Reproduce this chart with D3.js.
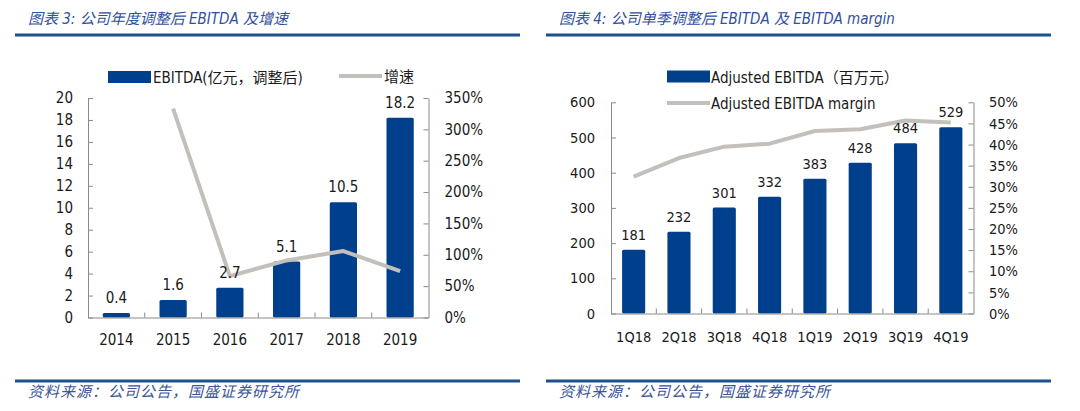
<!DOCTYPE html>
<html>
<head>
<meta charset="utf-8">
<script src="https://cdn.jsdelivr.net/npm/d3@7"></script>
<style>
body{margin:0;background:#fff;}
svg text{font-family:"DejaVu Sans Condensed","DejaVu Sans","Noto Sans CJK SC",sans-serif;fill:#1a1a1a;}
svg text.title{font-style:italic;fill:#2f509c;font-size:15px;}
svg text.source{font-style:italic;fill:#3b5597;font-size:15px;letter-spacing:1px;}
</style>
</head>
<body>
<svg id="chart" width="1080" height="411"></svg>
<script>
// 图表3: yearly adjusted EBITDA (亿元) and growth (%)
var years = ["2014", "2015", "2016", "2017", "2018", "2019"];
var ebitdaYear = [0.4, 1.6, 2.7, 5.1, 10.5, 18.2];
var growthYear = [null, 333, 66, 91, 106, 74];
var yearTicks = [0, 2, 4, 6, 8, 10, 12, 14, 16, 18, 20];
var growthTicks = [0, 50, 100, 150, 200, 250, 300, 350];

// 图表4: quarterly adjusted EBITDA (百万元) and margin (%)
var quarters = ["1Q18", "2Q18", "3Q18", "4Q18", "1Q19", "2Q19", "3Q19", "4Q19"];
var ebitdaQuarter = [181, 232, 301, 332, 383, 428, 484, 529];
var marginQuarter = [32.4, 36.8, 39.5, 40.2, 43.2, 43.6, 45.7, 45.2];
var quarterTicks = [0, 100, 200, 300, 400, 500, 600];
var marginTicks = [0, 5, 10, 15, 20, 25, 30, 35, 40, 45, 50];

var BAR = "#003f8c";
var LINE = "#c3c0bb";
var AXIS = "#8a8a8a";

function ComboChart(svg, opts){
    var self = this;
    self.svg = svg;
    self.opts = opts;
    self.init();
};

ComboChart.prototype.init = function(){
    var self = this;
    var o = self.opts;

    self.x = d3.scaleBand()
    .domain(o.cats)
    .range([o.left, o.right])
    .paddingInner(o.pad)
    .paddingOuter(o.pad / 2);

    self.yL = d3.scaleLinear()
    .domain([0, d3.max(o.leftTicks)])
    .range([o.bottom, o.top]);

    self.yR = d3.scaleLinear()
    .domain([0, d3.max(o.rightTicks)])
    .range([o.bottom, o.top]);

    self.g = self.svg.append("g");
};

ComboChart.prototype.styleAxis = function(g){
    var o = this.opts;
    g.select(".domain").attr("stroke", AXIS);
    g.selectAll(".tick line").attr("stroke", AXIS);
    g.selectAll(".tick text").attr("font-size", o.fontSize).attr("fill", "#1a1a1a");
};

ComboChart.prototype.draw = function(){
    var self = this;
    var o = self.opts;
    var x = self.x, yL = self.yL, yR = self.yR;

    //bars first so axes sit on top
    self.g.selectAll(".bar")
    .data(o.bars)
    .enter()
    .append("rect")
    .attr("class", "bar")
    .attr("x", (d,i) => x(o.cats[i]))
    .attr("width", x.bandwidth())
    .attr("y", d => yL(d))
    .attr("height", d => o.bottom - yL(d))
    .attr("rx", 1.5)
    .attr("fill", BAR);

    //left axis, ticks pointing into the plot
    var left = self.g.append("g")
    .attr("transform", "translate(" + o.left + ",0)")
    .call(d3.axisLeft(yL).tickValues(o.leftTicks).tickSize(-5).tickSizeOuter(0).tickPadding(o.leftPad));
    self.styleAxis(left);

    var right = self.g.append("g")
    .attr("transform", "translate(" + o.right + ",0)")
    .call(d3.axisRight(yR).tickValues(o.rightTicks).tickSize(-5).tickSizeOuter(0).tickPadding(o.rightPad)
        .tickFormat(d => d + "%"));
    self.styleAxis(right);

    var bottom = self.g.append("g")
    .attr("transform", "translate(0," + o.bottom + ")")
    .call(d3.axisBottom(x).tickSize(0).tickSizeOuter(0).tickPadding(o.bottomPad));
    self.styleAxis(bottom);

    //small ticks between the categories
    var half = x.step() * x.paddingInner() / 2;
    self.g.selectAll(".sep")
    .data(o.cats.slice(1))
    .enter()
    .append("line")
    .attr("class", "sep")
    .attr("x1", d => x(d) - half)
    .attr("x2", d => x(d) - half)
    .attr("y1", o.bottom)
    .attr("y2", o.bottom - 5)
    .attr("stroke", AXIS);

    //growth / margin line on the right axis
    var line = d3.line()
    .defined(d => d != null)
    .x((d,i) => x(o.cats[i]) + x.bandwidth() / 2)
    .y(d => yR(d));

    self.g.append("path")
    .attr("d", line(o.line))
    .attr("fill", "none")
    .attr("stroke", LINE)
    .attr("stroke-width", 4)
    .attr("stroke-linejoin", "round");

    //value labels above the bars
    self.g.selectAll(".val")
    .data(o.bars)
    .enter()
    .append("text")
    .attr("class", "val")
    .attr("x", (d,i) => x(o.cats[i]) + x.bandwidth() / 2)
    .attr("y", d => yL(d) - 10)
    .attr("text-anchor", "middle")
    .attr("font-size", o.fontSize)
    .text(d => d);
};

ComboChart.prototype.legend = function(items){
    var self = this;
    items.forEach(function(it){
        if(it.type == "bar"){
            self.g.append("rect")
            .attr("x", it.x).attr("y", it.y - 6)
            .attr("width", 43).attr("height", 12)
            .attr("fill", BAR);
        } else {
            self.g.append("line")
            .attr("x1", it.x).attr("x2", it.x + 43)
            .attr("y1", it.y).attr("y2", it.y)
            .attr("stroke", LINE).attr("stroke-width", 4);
        }
        self.g.append("text")
        .attr("x", it.tx)
        .attr("y", it.y + 6)
        .attr("font-size", 15)
        .text(it.label);
    });
};

var svg = d3.select("#chart");

//frame: titles, blue rules and source lines
var panels = [
    {x0: 15, x1: 520, tx: 28, title: "图表 3: 公司年度调整后 EBITDA 及增速"},
    {x0: 546, x1: 1051, tx: 559, title: "图表 4: 公司单季调整后 EBITDA 及 EBITDA margin"}
];
panels.forEach(function(p){
    svg.append("text").attr("class", "title").attr("x", p.tx).attr("y", 24).text(p.title);
    svg.append("line").attr("x1", p.x0).attr("x2", p.x1).attr("y1", 35).attr("y2", 35)
    .attr("stroke", "#1f4f8e").attr("stroke-width", 3);
    svg.append("line").attr("x1", p.x0).attr("x2", p.x1).attr("y1", 381).attr("y2", 381)
    .attr("stroke", "#1f4f8e").attr("stroke-width", 3);
    svg.append("text").attr("class", "source").attr("x", p.tx).attr("y", 397).text("资料来源：公司公告，国盛证券研究所");
});

var yearly = new ComboChart(svg, {
    cats: years, bars: ebitdaYear, line: growthYear,
    leftTicks: yearTicks, rightTicks: growthTicks,
    left: 88, right: 428.5, top: 98, bottom: 317.5,
    pad: 0.52, fontSize: 15, leftPad: 15, rightPad: 16, bottomPad: 17
});
yearly.draw();
yearly.legend([
    {type: "bar", x: 108, y: 77, tx: 153, label: "EBITDA(亿元，调整后)"},
    {type: "line", x: 339, y: 76, tx: 384, label: "增速"}
]);

var quarterly = new ComboChart(svg, {
    cats: quarters, bars: ebitdaQuarter, line: marginQuarter,
    leftTicks: quarterTicks, rightTicks: marginTicks,
    left: 611, right: 973.5, top: 102.3, bottom: 313.5,
    pad: 0.49, fontSize: 14.5, leftPad: 16, rightPad: 15.5, bottomPad: 18
});
quarterly.draw();
quarterly.legend([
    {type: "bar", x: 667, y: 76.5, tx: 711, label: "Adjusted EBITDA（百万元）"},
    {type: "line", x: 667, y: 103, tx: 711, label: "Adjusted EBITDA margin"}
]);
</script>
</body>
</html>
